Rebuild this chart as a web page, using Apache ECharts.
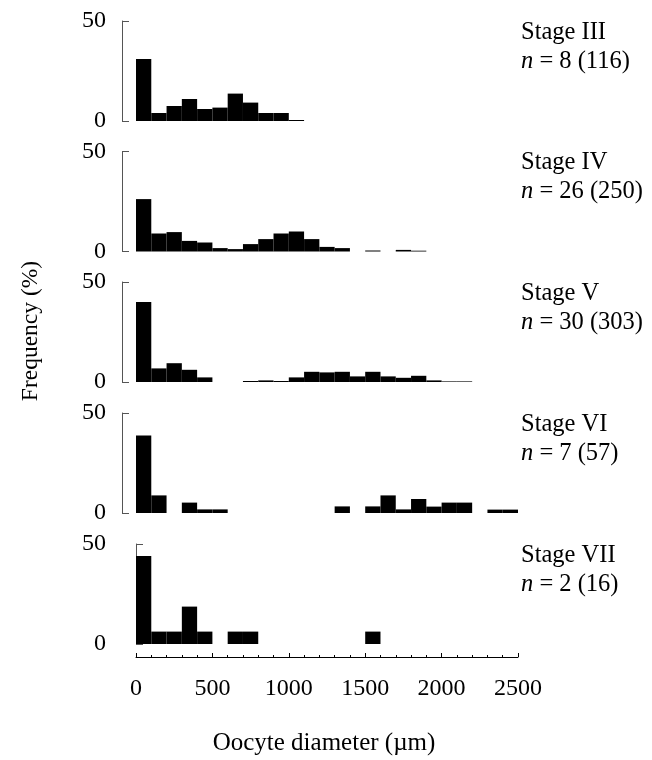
<!DOCTYPE html>
<html><head><meta charset="utf-8">
<script src="https://cdn.jsdelivr.net/npm/echarts@6/dist/echarts.min.js"></script>
<style>html,body{margin:0;padding:0;background:#fff}#c{width:652px;height:760px}</style>
</head><body><div id="c"></div>
<script>
// Histogram bins (µm), 100 µm wide
const binStarts = [0,100,200,300,400,500,600,700,800,900,1000,1100,1200,1300,1400,1500,1600,1700,1800,1900,2000,2100,2200,2300,2400];
const stageNames = ['Stage III','Stage IV','Stage V','Stage VI','Stage VII'];
const sampleSizes = ['8 (116)','26 (250)','30 (303)','7 (57)','2 (16)'];
// Frequency (%) per bin
const stage3 = [31, 4, 7.5, 11, 6, 6.7, 13.7, 9.2, 4, 4, 0.5, null, null, null, null, null, null, null, null, null, null, null, null, null, null];
const stage4 = [26.2, 9, 9.7, 5.3, 4.5, 1.7, 1.2, 3.7, 6.2, 9, 10, 6.2, 2.3, 1.7, null, 0.5, null, 0.8, 0.4, null, null, null, null, null, null];
const stage5 = [40, 6.8, 9.4, 6.1, 2.3, null, null, 0.5, 0.8, 0.5, 2.3, 5.1, 4.8, 5.1, 2.8, 5.1, 2.8, 2.1, 3.1, 0.8, 0.3, 0.3, null, null, null];
const stage6 = [38.8, 8.8, null, 5.2, 1.8, 1.8, null, null, null, null, null, null, null, 3.3, null, 3.3, 8.8, 1.8, 7, 3.2, 5.2, 5.2, null, 1.7, 1.7];
const stage7 = [44, 6.2, 6.2, 18.7, 6.2, null, 6.2, 6.2, null, null, null, null, null, null, null, 6.2, null, null, null, null, null, null, null, null, null];
const yTickMax = 50;
const xTickMax = 2500;
const xTickStep = 500;

const allStages = [stage3, stage4, stage5, stage6, stage7];
const FONT = "'Liberation Serif', 'Times New Roman', serif";
const gridTops = [21, 151.5, 282, 413, 544];
const GRID_LEFT = 136, GRID_W = 382, GRID_H = 100;

const chart = echarts.init(document.getElementById('c'), null, {renderer: 'canvas'});

const grids = [], xAxes = [], yAxes = [], series = [], titles = [];
allStages.forEach((vals, i) => {
  grids.push({left: GRID_LEFT, top: gridTops[i], width: GRID_W, height: GRID_H});
  xAxes.push({type: 'category', gridIndex: i, data: binStarts.map(String), show: false, position: 'top', boundaryGap: true});
  yAxes.push({
    type: 'value', gridIndex: i, min: 0, max: yTickMax, interval: yTickMax, offset: 14,
    axisLine: {show: true, lineStyle: {color: '#555', width: 1}},
    axisTick: {show: true, inside: true, length: 7, lineStyle: {color: '#555'}},
    axisLabel: {margin: 16, fontSize: 24, color: '#000', fontFamily: FONT},
    splitLine: {show: false}
  });
  series.push({
    type: 'bar', xAxisIndex: i, yAxisIndex: i, data: vals,
    barCategoryGap: '0%', barGap: '0%', silent: true,
    itemStyle: {color: '#000'}
  });
  titles.push({
    left: 521, top: gridTops[i] - 3, padding: 0,
    text: stageNames[i] + '\n{i|n} = ' + sampleSizes[i],
    textStyle: {fontSize: 24.5, fontWeight: 'normal', fontFamily: FONT, color: '#000', lineHeight: 29,
      rich: {i: {fontStyle: 'italic', fontSize: 24.5, fontFamily: FONT, color: '#000', lineHeight: 29}}}
  });
});
xAxes.push({
  type: 'value', gridIndex: 4, min: 0, max: xTickMax, interval: xTickStep, position: 'bottom', offset: 13,
  axisLine: {show: true, lineStyle: {color: '#000', width: 1}},
  axisTick: {show: true, inside: true, length: 4, lineStyle: {color: '#000'}},
  minorTick: {show: true, splitNumber: 5, length: 2, lineStyle: {color: '#000'}},
  axisLabel: {margin: 20, fontSize: 24, color: '#000', fontFamily: FONT, formatter: v => String(v)},
  splitLine: {show: false}
});

chart.setOption({
  animation: false,
  backgroundColor: '#fff',
  title: titles,
  grid: grids,
  xAxis: xAxes,
  yAxis: yAxes,
  series: series,
  graphic: [
    {type: 'text', x: 31, y: 331, rotation: Math.PI / 2,
      style: {text: 'Frequency (%)', font: '23.5px ' + FONT, fill: '#000', textAlign: 'center', textVerticalAlign: 'middle'}},
    {type: 'text', x: 324, y: 743,
      style: {text: 'Oocyte diameter (µm)', font: '25px ' + FONT, fill: '#000', textAlign: 'center', textVerticalAlign: 'middle'}}
  ]
});
</script></body></html>
